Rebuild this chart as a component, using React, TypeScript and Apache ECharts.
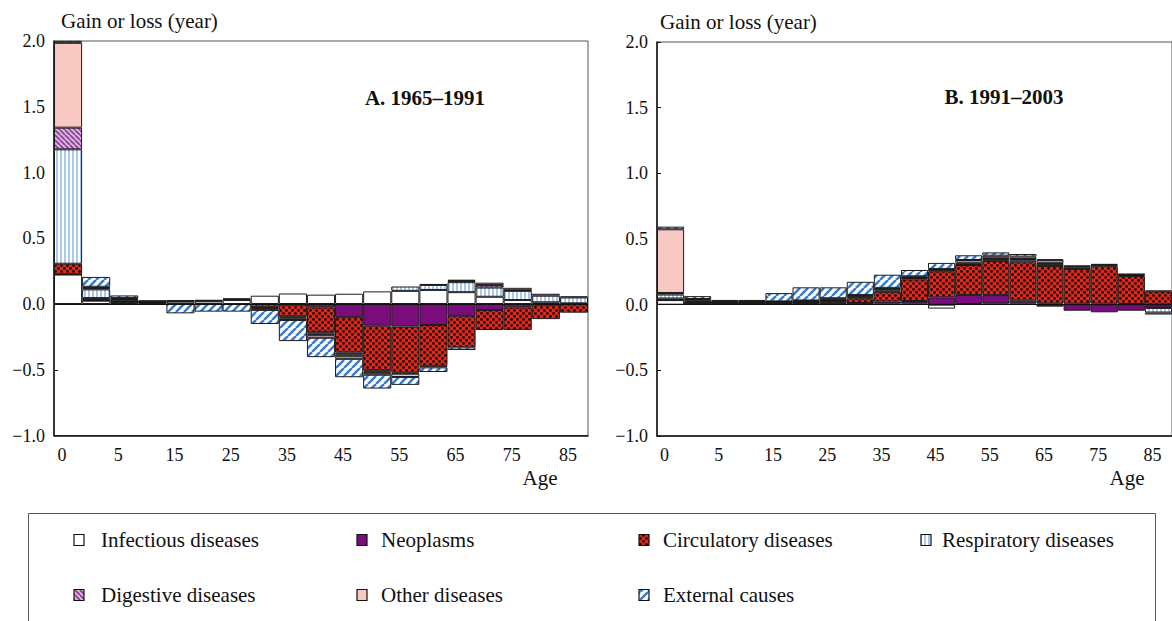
import React, { useEffect, useRef } from 'react';
import * as echarts from 'echarts';

// ---- Data ----
const ageGroups = ['0', '1', '5', '10', '15', '20', '25', '30', '35', '40', '45', '50', '55', '60', '65', '70', '75', '80', '85'];
const seriesNames = ['Infectious diseases', 'Neoplasms', 'Circulatory diseases', 'Respiratory diseases', 'Digestive diseases', 'Other diseases', 'External causes'];
const yMin = -1;
const yMax = 2;
const yStep = 0.5;
const titleA = 'A. 1965\u20131991';
const titleB = 'B. 1991\u20132003';
const yAxisTitle = 'Gain or loss (year)';
const xAxisTitle = 'Age';

// Panel A: 1965–1991
const infectiousA = [0.224, 0.025, 0.01, 0.006, 0.018, 0.02, 0.03, 0.063, 0.08, 0.071, 0.078, 0.096, 0.1, 0.107, 0.09, 0.055, 0.03, 0.013, 0.005];
const neoplasmsA = [0.002, 0.005, 0.006, 0.004, 0, 0, 0, 0, -0.005, -0.025, -0.1, -0.165, -0.172, -0.16, -0.09, -0.046, -0.025, -0.005, 0];
const circulatoryA = [0.08, 0.015, 0.004, 0.003, 0.005, 0.005, 0.005, -0.025, -0.089, -0.19, -0.27, -0.34, -0.35, -0.31, -0.24, -0.152, -0.172, -0.11, -0.066];
const respiratoryA = [0.87, 0.066, 0.012, 0.003, 0, 0, 0, 0, -0.008, -0.01, -0.012, -0.008, 0.033, 0.038, 0.076, 0.07, 0.07, 0.05, 0.045];
const digestiveA = [0.165, 0.01, 0.005, 0.002, 0, 0, 0, -0.005, -0.008, -0.012, -0.015, -0.01, -0.008, 0.007, 0.01, 0.02, 0.005, 0, 0];
const otherA = [0.645, 0.01, 0.008, 0.003, 0.005, 0.005, 0.008, -0.015, -0.012, -0.02, -0.02, -0.015, -0.025, -0.012, 0.008, 0.017, 0.018, 0.015, 0.008];
const externalA = [0.015, 0.075, 0.02, 0.005, -0.071, -0.058, -0.058, -0.107, -0.16, -0.147, -0.14, -0.105, -0.06, -0.035, -0.02, 0, 0, 0, 0];

// Panel B: 1991–2003
const infectiousB = [0.035, 0.01, 0.008, 0.008, 0.008, 0.01, 0.01, 0.008, 0.008, 0.01, -0.03, 0.005, 0.01, 0.01, 0.01, 0.008, 0.008, 0.005, -0.005];
const neoplasmsB = [0.002, 0.003, 0.003, 0.003, 0.003, 0.003, 0.004, 0.005, 0.015, 0.018, 0.056, 0.069, 0.063, 0.023, -0.015, -0.046, -0.058, -0.046, -0.02];
const circulatoryB = [0.01, 0.005, 0.004, 0.004, 0.005, 0.006, 0.015, 0.035, 0.075, 0.165, 0.198, 0.228, 0.26, 0.29, 0.284, 0.264, 0.285, 0.213, 0.1];
const respiratoryB = [0.03, 0.008, 0.003, 0.003, 0.003, 0.004, 0.005, 0.008, 0.01, 0.01, 0.008, 0.01, 0.015, 0.015, 0.015, 0.012, 0.01, 0.008, -0.035];
const digestiveB = [0.012, 0.005, 0.002, 0.002, 0.002, 0.004, 0.005, 0.008, 0.01, 0.005, 0.005, 0.008, 0.01, 0.01, 0.01, 0.008, 0.007, 0.005, 0.008];
const otherB = [0.485, 0.012, 0.004, 0.004, 0.004, 0.005, 0.01, 0.01, 0.01, 0.008, 0.005, 0.02, 0.015, 0.018, 0.02, 0.005, 0, 0.002, -0.015];
const externalB = [0.02, 0.022, 0.012, 0.012, 0.063, 0.1, 0.083, 0.1, 0.1, 0.048, 0.046, 0.036, 0.025, 0.02, 0.006, 0, 0, 0, 0];

const panelA = [infectiousA, neoplasmsA, circulatoryA, respiratoryA, digestiveA, otherA, externalA];
const panelB = [infectiousB, neoplasmsB, circulatoryB, respiratoryB, digestiveB, otherB, externalB];

const SERIF = 'Liberation Serif';

function tile(w: number, h: number, draw: (ctx: CanvasRenderingContext2D) => void) {
  const c = document.createElement('canvas');
  c.width = w;
  c.height = h;
  const ctx = c.getContext('2d') as CanvasRenderingContext2D;
  draw(ctx);
  return c;
}

function makeFills(): any[] {
  const circ = tile(6, 6, (ctx) => {
    ctx.fillStyle = '#e2281c';
    ctx.fillRect(0, 0, 6, 6);
    ctx.fillStyle = '#111';
    ctx.beginPath();
    ctx.arc(1.5, 1.5, 1.45, 0, Math.PI * 2);
    ctx.arc(4.5, 4.5, 1.45, 0, Math.PI * 2);
    ctx.fill();
  });
  const resp = tile(4, 4, (ctx) => {
    ctx.fillStyle = '#ffffff';
    ctx.fillRect(0, 0, 4, 4);
    ctx.fillStyle = '#a9c8ec';
    ctx.fillRect(0, 0, 2, 4);
  });
  const dig = tile(5, 5, (ctx) => {
    ctx.fillStyle = '#dcb6df';
    ctx.fillRect(0, 0, 5, 5);
    ctx.strokeStyle = '#8a3b95';
    ctx.lineWidth = 1.6;
    for (const x0 of [-5, 0, 5]) {
      ctx.beginPath();
      ctx.moveTo(x0, 0);
      ctx.lineTo(x0 + 5, 5);
      ctx.stroke();
    }
  });
  const ext = tile(8, 8, (ctx) => {
    ctx.fillStyle = '#ffffff';
    ctx.fillRect(0, 0, 8, 8);
    ctx.strokeStyle = '#3c7cc8';
    ctx.lineWidth = 2.6;
    for (const x0 of [-8, 0, 8]) {
      ctx.beginPath();
      ctx.moveTo(x0, 8);
      ctx.lineTo(x0 + 8, 0);
      ctx.stroke();
    }
  });
  return [
    '#ffffff',
    '#7b0c7b',
    { image: circ, repeat: 'repeat' },
    { image: resp, repeat: 'repeat' },
    { image: dig, repeat: 'repeat' },
    '#f8c8c3',
    { image: ext, repeat: 'repeat' },
  ];
}

export default function App() {
  const ref = useRef<HTMLDivElement>(null);

  useEffect(() => {
    if (!ref.current) return;
    const chart = echarts.init(ref.current, undefined, { renderer: 'svg' });
    const fills = makeFills();
    const fmt = (v: number) => (v < 0 ? '\u2212' : '') + Math.abs(v).toFixed(1);

    const grids = [
      { left: 54, top: 41, width: 534, height: 394.5 },
      { left: 657, top: 42, width: 519, height: 394 },
    ];

    const xAxes = grids.map((_, i) => ({
      type: 'category',
      gridIndex: i,
      data: ageGroups,
      axisLine: { onZero: false, lineStyle: { color: '#111', width: 1.5 } },
      axisTick: { show: false },
      axisLabel: {
        interval: 1,
        color: '#111',
        fontFamily: SERIF,
        fontSize: 18,
        margin: 10,
        padding: [0, 12, 0, 0],
      },
      splitLine: { show: false },
    }));

    const yAxes = grids.map((_, i) => ({
      type: 'value',
      gridIndex: i,
      min: yMin,
      max: yMax,
      interval: yStep,
      axisLine: { show: true, lineStyle: { color: '#111', width: 1.5 } },
      axisTick: { show: true, inside: true, length: 4, lineStyle: { color: '#111' } },
      splitLine: { show: false },
      axisLabel: { formatter: fmt, color: '#111', fontFamily: SERIF, fontSize: 18, margin: 9 },
    }));

    const series: any[] = [];
    [panelA, panelB].forEach((panel, pi) => {
      panel.forEach((vals, si) => {
        const s: any = {
          type: 'bar',
          name: seriesNames[si],
          xAxisIndex: pi,
          yAxisIndex: pi,
          stack: 'panel' + pi,
          barCategoryGap: '0%',
          silent: true,
          data: vals.map((v) => (v === 0 ? null : v)),
          itemStyle: { color: fills[si], borderColor: '#1b1b1b', borderWidth: 1 },
          emphasis: { disabled: true },
        };
        if (si === 0) {
          s.markLine = {
            silent: true,
            symbol: 'none',
            label: { show: false },
            lineStyle: { color: '#111', width: 1, type: 'solid' },
            data: [{ yAxis: 0 }],
          };
        }
        series.push(s);
      });
    });

    const txt = (text: string, x: number, y: number, size: number, align = 'left', bold = false) => ({
      type: 'text',
      x,
      y,
      silent: true,
      style: {
        text,
        fill: '#111',
        fontFamily: SERIF,
        fontSize: size,
        fontWeight: bold ? 'bold' : 'normal',
        align,
        verticalAlign: 'middle',
      },
    });

    const legendPos = [
      { ix: 74, tx: 101, y: 540 },
      { ix: 357, tx: 381, y: 540 },
      { ix: 639, tx: 663, y: 540 },
      { ix: 921, tx: 942, y: 540 },
      { ix: 74, tx: 101, y: 595 },
      { ix: 357, tx: 381, y: 595 },
      { ix: 639, tx: 663, y: 595 },
    ];

    const legendEls: any[] = [];
    seriesNames.forEach((name, i) => {
      const p = legendPos[i];
      legendEls.push({
        type: 'rect',
        silent: true,
        shape: { x: p.ix, y: p.y - 5.5, width: 10, height: 11 },
        style: { fill: fills[i], stroke: '#111', lineWidth: 1.2 },
      });
      legendEls.push(txt(name, p.tx, p.y, 21));
    });

    chart.setOption({
      animation: false,
      backgroundColor: '#ffffff',
      grid: grids.map((g) => ({ ...g, show: true, borderColor: '#555', borderWidth: 1 })),
      xAxis: xAxes,
      yAxis: yAxes,
      series,
      graphic: [
        txt(yAxisTitle, 61, 21, 21),
        txt(yAxisTitle, 660, 22, 21),
        txt(titleA, 425, 98, 21, 'center', true),
        txt(titleB, 1004, 97, 21, 'center', true),
        txt(xAxisTitle, 540, 478, 21, 'center'),
        txt(xAxisTitle, 1127, 478, 21, 'center'),
        {
          type: 'rect',
          silent: true,
          shape: { x: 28.5, y: 513.5, width: 1127, height: 140 },
          style: { fill: 'none', stroke: '#555', lineWidth: 1 },
        },
        ...legendEls,
      ],
    });

    return () => chart.dispose();
  }, []);

  return (
    <div
      ref={ref}
      style={{ position: 'fixed', left: 0, top: 0, width: 1172, height: 621, background: '#fff' }}
    />
  );
}
